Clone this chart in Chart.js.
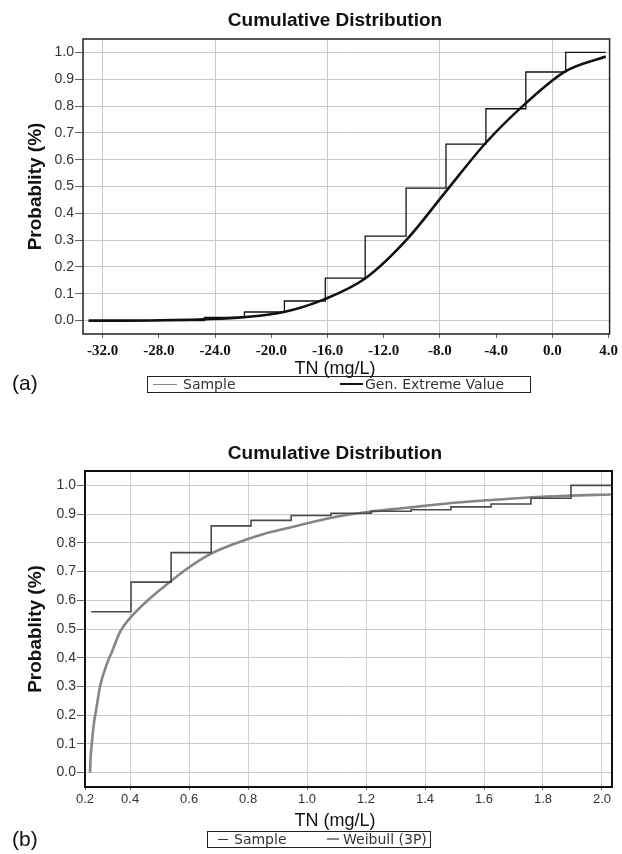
<!DOCTYPE html>
<html>
<head>
<meta charset="utf-8">
<script src="https://cdn.jsdelivr.net/npm/chart.js@4.4.0/dist/chart.umd.min.js"></script>
<style>
  body { margin:0; background:#fff; width:622px; height:854px; position:relative; overflow:hidden; font-family:"Liberation Sans", Arial, sans-serif; }
  canvas { position:absolute; left:0; }
  .title { position:absolute; font-weight:bold; font-size:19px; line-height:19px; color:#111; transform:translateX(-50%); white-space:nowrap; }
  .xtitle { position:absolute; font-size:18px; line-height:18px; color:#111; transform:translateX(-50%); white-space:nowrap; }
  .tag { position:absolute; left:12px; font-size:21px; line-height:21px; color:#111; }
  .legend { position:absolute; border:1px solid #222; height:17px; box-sizing:border-box; font-family:"DejaVu Sans", sans-serif; font-size:14px; line-height:15px; color:#333; }
  .legend span { position:absolute; top:0; white-space:nowrap; }
  .legend i { position:absolute; top:7px; height:0; }
</style>
</head>
<body>
<canvas id="chartA" width="622" height="400" style="top:0"></canvas>
<canvas id="chartB" width="622" height="434" style="top:420px"></canvas>

<div class="title" style="left:335px; top:10px">Cumulative Distribution</div>
<div class="xtitle" style="left:335px; top:359px">TN (mg/L)</div>
<div class="tag" style="top:372px">(a)</div>
<div class="legend" style="left:147px; top:376px; width:384px">
  <i style="left:5px; width:24px; border-top:1px solid #888"></i><span style="left:35px">Sample</span>
  <i style="left:192px; width:23px; border-top:2px solid #111; top:6px"></i><span style="left:217px">Gen. Extreme Value</span>
</div>

<div class="title" style="left:335px; top:443px">Cumulative Distribution</div>
<div class="xtitle" style="left:335px; top:811px">TN (mg/L)</div>
<div class="tag" style="top:828px">(b)</div>
<div class="legend" style="left:207px; top:831px; width:224px">
  <i style="left:10px; width:10px; border-top:1px solid #333"></i><span style="left:26px">Sample</span>
  <i style="left:119px; width:12px; border-top:2px solid #888; top:6px"></i><span style="left:135px">Weibull (3P)</span>
</div>

<script>
// tick values
const probTicks = [0, 0.1, 0.2, 0.3, 0.4, 0.5, 0.6, 0.7, 0.8, 0.9, 1.0];
const tnTicksA = [-32, -28, -24, -20, -16, -12, -8, -4, 0, 4];
const tnTicksB = [0.4, 0.6, 0.8, 1.0, 1.2, 1.4, 1.6, 1.8, 2.0];
const xMinB = 0.247; // axis starts here, labelled "0.2"

// (a) sample ECDF and fitted GEV
const sampleA_x = [-33.0, -24.76, -21.91, -19.07, -16.16, -13.32, -10.41, -7.57, -4.73, -1.89, 0.95, 3.80];
const sampleA_y = [0.0, 0.012, 0.032, 0.073, 0.158, 0.315, 0.494, 0.658, 0.79, 0.927, 1.0, 1.0];
const gevA_x = [-33.0, -30.0, -27.0, -24.8, -21.9, -19.1, -16.2, -13.3, -10.4, -7.6, -4.7, -1.9, 0.95, 3.8];
const gevA_y = [0.0, 0.0, 0.002, 0.005, 0.013, 0.032, 0.08, 0.158, 0.30, 0.48, 0.665, 0.81, 0.93, 0.985];

// (b) sample ECDF and fitted Weibull (3P)
const sampleB_x = [0.268, 0.403, 0.539, 0.675, 0.810, 0.946, 1.081, 1.217, 1.353, 1.488, 1.624, 1.759, 1.895, 2.031];
const sampleB_y = [0.56, 0.663, 0.766, 0.859, 0.878, 0.895, 0.903, 0.91, 0.915, 0.925, 0.935, 0.955, 1.0, 1.0];
const weibB_x = [0.264, 0.266, 0.270, 0.277, 0.285, 0.298, 0.318, 0.338, 0.366, 0.393, 0.46, 0.53, 0.60, 0.67, 0.75, 0.85, 0.95, 1.07, 1.21, 1.34, 1.475, 1.61, 1.75, 1.88, 2.03];
const weibB_y = [0.0, 0.05, 0.1, 0.17, 0.22, 0.30, 0.37, 0.42, 0.49, 0.53, 0.60, 0.66, 0.715, 0.76, 0.795, 0.83, 0.855, 0.885, 0.908, 0.922, 0.937, 0.948, 0.958, 0.964, 0.968];

const pts = (xs, ys) => xs.map((x, i) => ({x: x, y: ys[i]}));

// box around the plot area
const frame = {
  id: 'frame',
  afterDraw(chart, args, opts) {
    const {ctx, chartArea: a} = chart;
    ctx.save();
    ctx.strokeStyle = opts.color;
    ctx.lineWidth = opts.width;
    ctx.strokeRect(a.left, a.top, a.right - a.left, a.bottom - a.top);
    ctx.restore();
  }
};

function yAxis(width) {
  return {
    type: 'linear', min: -0.05, max: 1.05,
    afterBuildTicks: s => { s.ticks = probTicks.map(v => ({value: v})); },
    afterFit: s => { s.width = width; },
    ticks: { callback: v => v.toFixed(1), font: {family: 'Liberation Sans', size: 14}, color: '#333', padding: 1 },
    grid: { color: '#c8c8c8', tickColor: '#666', tickLength: 8 },
    border: { display: false },
    title: { display: true, text: 'Probablity (%)', color: '#111',
             font: {family: 'Liberation Sans', size: 19, weight: 'bold'}, padding: {top: 24, bottom: 0} }
  };
}

new Chart(document.getElementById('chartA'), {
  type: 'line',
  data: {
    datasets: [
      { label: 'Sample', data: pts(sampleA_x, sampleA_y), stepped: 'before',
        borderColor: '#111', borderWidth: 1.3, pointRadius: 0, fill: false },
      { label: 'Gen. Extreme Value', data: pts(gevA_x, gevA_y), cubicInterpolationMode: 'monotone',
        borderColor: '#111', borderWidth: 2.6, pointRadius: 0, fill: false }
    ]
  },
  options: {
    responsive: false,
    animation: false,
    layout: { padding: {left: 0, top: 39, right: 11, bottom: 0} },
    plugins: { legend: {display: false}, tooltip: {enabled: false}, frame: {color: '#222', width: 1.5} },
    scales: {
      x: {
        type: 'linear', min: -33.4, max: 4.07,
        afterBuildTicks: s => { s.ticks = tnTicksA.map(v => ({value: v})); },
        afterFit: s => { s.height = 66; },
        ticks: { callback: v => v.toFixed(1), font: {family: 'Liberation Serif', size: 15, weight: 'bold'},
                 color: '#111', padding: 4, maxRotation: 0, autoSkip: false },
        grid: { color: c => (c.tick && c.tick.value % 8 === 0 && c.tick.value < 4) ? '#c8c8c8' : 'rgba(0,0,0,0)',
                tickColor: '#666', tickLength: 4 },
        border: { display: false }
      },
      y: yAxis(83)
    }
  },
  plugins: [frame]
});

new Chart(document.getElementById('chartB'), {
  type: 'line',
  data: {
    datasets: [
      { label: 'Sample', data: pts(sampleB_x, sampleB_y), stepped: 'before',
        borderColor: '#4a4a4a', borderWidth: 1.6, pointRadius: 0, fill: false },
      { label: 'Weibull (3P)', data: pts(weibB_x, weibB_y), cubicInterpolationMode: 'monotone',
        borderColor: '#858585', borderWidth: 2.6, pointRadius: 0, fill: false }
    ]
  },
  options: {
    responsive: false,
    animation: false,
    layout: { padding: {left: 0, top: 51, right: 10, bottom: 0} },
    plugins: { legend: {display: false}, tooltip: {enabled: false}, frame: {color: '#111', width: 2} },
    scales: {
      x: {
        type: 'linear', min: xMinB, max: 2.034,
        afterBuildTicks: s => { s.ticks = [xMinB].concat(tnTicksB).map(v => ({value: v})); },
        afterFit: s => { s.height = 67; },
        ticks: { callback: v => v.toFixed(1), font: {family: 'Liberation Sans', size: 13},
                 color: '#333', padding: 2, maxRotation: 0, autoSkip: false },
        grid: { color: c => (c.tick && c.tick.value !== xMinB) ? '#d0d0d0' : 'rgba(0,0,0,0)',
                tickColor: '#666', tickLength: 3 },
        border: { display: false }
      },
      y: yAxis(85)
    }
  },
  plugins: [frame]
});
</script>
</body>
</html>
